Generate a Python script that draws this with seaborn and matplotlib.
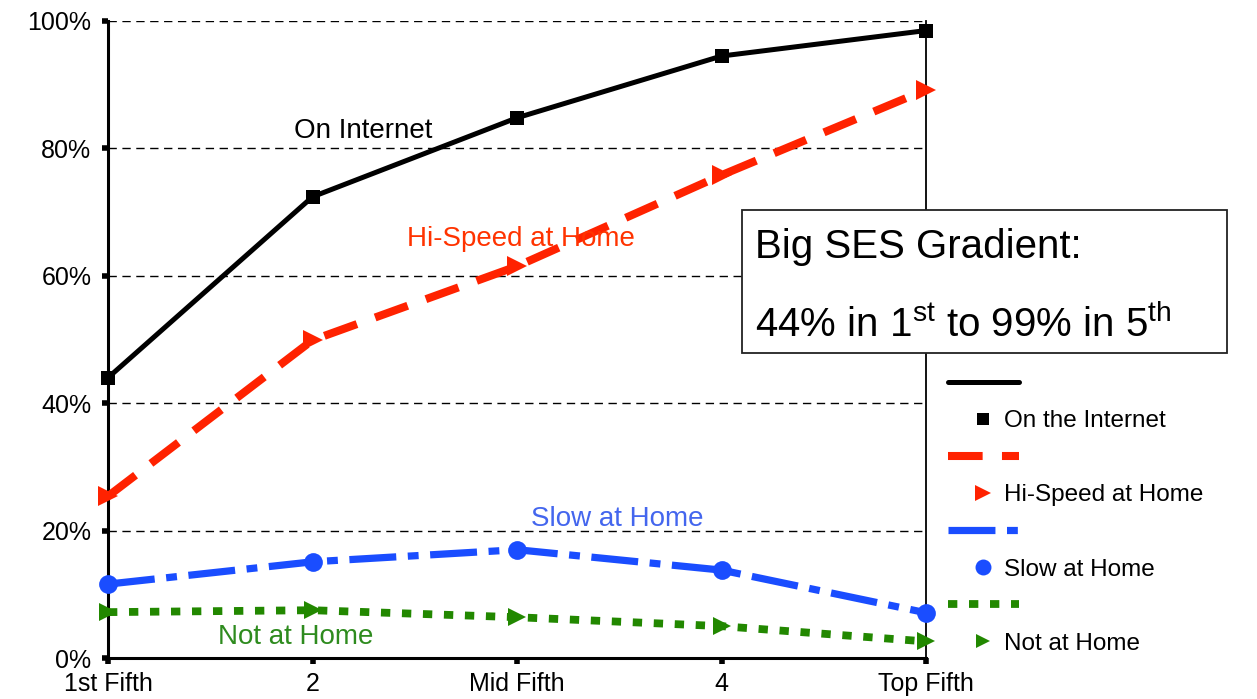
import matplotlib
matplotlib.use("Agg")
import matplotlib.pyplot as plt
from matplotlib.lines import Line2D
from matplotlib.patches import Rectangle
import seaborn as sns
import pandas as pd

# Income quintiles and share of people in each internet-use group (%)
quintiles = ["1st Fifth", "2", "Mid Fifth", "4", "Top Fifth"]
on_internet = [44.0, 72.4, 84.8, 94.5, 98.5]
hi_speed_home = [25.4, 49.9, 61.5, 75.8, 89.2]
slow_home = [11.6, 15.1, 17.0, 13.8, 7.1]
not_home = [7.2, 7.5, 6.4, 5.0, 2.6]
y_ticks = [0, 20, 40, 60, 80, 100]
y_tick_labels = ["0%", "20%", "40%", "60%", "80%", "100%"]

df = pd.DataFrame({
    "pos": range(len(quintiles)),
    "On the Internet": on_internet,
    "Hi-Speed at Home": hi_speed_home,
    "Slow at Home": slow_home,
    "Not at Home": not_home,
})

sns.set_style("ticks")
plt.rcParams["font.family"] = ["Liberation Sans", "DejaVu Sans"]
plt.rcParams["mathtext.default"] = "regular"
for key in ["text.color", "axes.labelcolor", "xtick.color", "ytick.color", "axes.edgecolor"]:
    plt.rcParams[key] = "black"

W, H = 1257, 699
fig = plt.figure(figsize=(W / 100, H / 100), dpi=100)
ax = fig.add_axes([108 / W, 41 / H, (926 - 108) / W, (658 - 21) / H])

styles = {
    "On the Internet": dict(color="black", lw=3.6, ls="-", marker="s", ms=10.5),
    "Hi-Speed at Home": dict(color="#ff2200", lw=5.8, ls=(0, (4.3, 2.4)), marker=">", ms=14),
    "Slow at Home": dict(color="#1a4dff", lw=5.2, ls=(0, (6.5, 1.6, 1.5, 1.6)), marker="o", ms=13.5),
    "Not at Home": dict(color="#228800", lw=5.6, ls=(0, (1.2, 1.5)), marker=">", ms=12.5),
}

for name, st in styles.items():
    sns.lineplot(data=df, x="pos", y=name, ax=ax, color=st["color"], linewidth=st["lw"],
                 linestyle=st["ls"], marker=st["marker"], markersize=st["ms"],
                 markeredgecolor=st["color"], markeredgewidth=0, clip_on=False, zorder=3)

ax.set_xlim(0, len(quintiles) - 1)
ax.set_ylim(0, 100)
ax.set_xticks(range(len(quintiles)))
ax.set_xticklabels(quintiles)
ax.set_yticks(y_ticks)
ax.set_yticklabels(y_tick_labels)
ax.set_xlabel("")
ax.set_ylabel("")
ax.tick_params(axis="both", direction="out", length=4, width=4, labelsize=18, color="black")
ax.tick_params(axis="y", pad=8)
ax.tick_params(axis="x", pad=6)

ax.yaxis.grid(True, linestyle=(0, (6, 4)), color="black", lw=1.0, zorder=0)
ax.spines["top"].set_visible(False)
ax.spines["left"].set_linewidth(2.2)
ax.spines["bottom"].set_linewidth(2.2)
ax.spines["right"].set_linewidth(1.3)

# Series labels next to the lines
lab_kw = dict(ha="center", va="center", fontsize=20)
ax.text(1.25, 82.7, "On Internet", color="black", **lab_kw)
ax.text(2.02, 65.8, "Hi-Speed at Home", color="#ff3300", **lab_kw)
ax.text(2.49, 21.8, "Slow at Home", color="#4466ee", **lab_kw)
ax.text(0.92, 3.3, "Not at Home", color="#2e8b1e", **lab_kw)

# Annotation box
fig.add_artist(Rectangle((742 / W, 1 - 353 / H), (1227 - 742) / W, (353 - 210) / H,
                         transform=fig.transFigure, facecolor="white",
                         edgecolor="#222222", lw=1.3, zorder=5))
fig.text(755 / W, 1 - 247 / H, "Big SES Gradient:", fontsize=29, va="center", ha="left", zorder=6)
fig.text(755 / W, 1 - 325 / H, r"44% in 1$^{st}$ to 99% in 5$^{th}$", fontsize=29,
         va="center", ha="left", zorder=6)

# Legend: a line row and a marker row for each series
handles, labels = [], []
for name, st in styles.items():
    handles.append(Line2D([], [], color=st["color"], lw=st["lw"], ls=st["ls"]))
    labels.append("")
    handles.append(Line2D([], [], color=st["color"], lw=0, marker=st["marker"],
                          markersize=st["ms"] * 0.85, markeredgewidth=0))
    labels.append(name)
fig.legend(handles, labels, loc="upper left", bbox_to_anchor=(936 / W, 1 - 361 / H),
           frameon=False, fontsize=17.5, handlelength=2.9, handletextpad=-0.6,
           labelspacing=0.62, borderpad=0)

fig.savefig("out.png", dpi=100)
